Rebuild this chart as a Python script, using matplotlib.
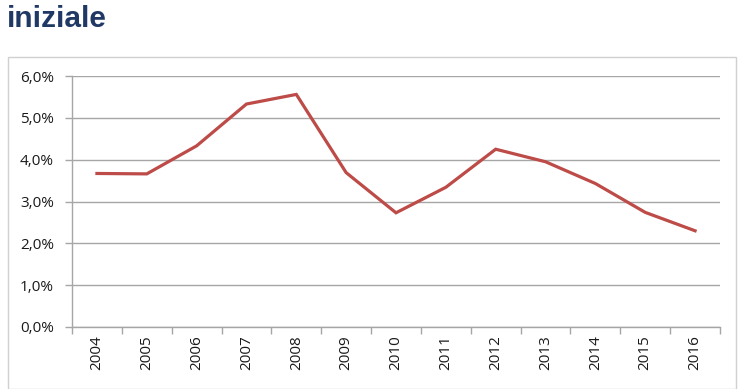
import matplotlib
matplotlib.use("Agg")
import matplotlib.pyplot as plt
import numpy as np
from matplotlib.patches import Rectangle
from matplotlib.ticker import FuncFormatter, FixedLocator

years = ["2004", "2005", "2006", "2007", "2008", "2009", "2010",
         "2011", "2012", "2013", "2014", "2015", "2016"]
rates = [3.67, 3.66, 4.33, 5.33, 5.56, 3.69, 2.73,
         3.34, 4.25, 3.95, 3.43, 2.74, 2.30]
title = "iniziale"

W, H = 740, 389
fig = plt.figure(figsize=(W / 100, H / 100), dpi=100)
fig.patch.set_facecolor("white")

# outer chart frame
fig.patches.append(Rectangle((8 / W, 0), (736 - 8) / W, 1 - 57 / H,
                             transform=fig.transFigure, fill=False,
                             edgecolor="#d0d0d0", linewidth=1.0))

fig.text(7 / W, 1 - 19 / H, title, fontsize=21.5, fontweight="bold",
         color="#1f3864", family="Liberation Sans", va="center", ha="left")

left, right, top, bottom = 72, 720, 76, 327
ax = fig.add_axes([left / W, 1 - bottom / H, (right - left) / W, (bottom - top) / H])

x = np.arange(len(years))
ax.plot(x, rates, color="#bd4b48", linewidth=2.3, solid_joinstyle="miter")

ax.set_xlim(-0.5, len(years) - 0.5)
ax.set_ylim(0, 6)
ax.set_yticks(np.arange(0, 7, 1))
ax.yaxis.set_major_formatter(FuncFormatter(lambda v, p: f"{v:.1f}%".replace(".", ",")))
ax.yaxis.grid(True, color="#a6a6a6", linewidth=1.0)
ax.set_axisbelow(True)

ax.set_xticks(x)
ax.set_xticklabels(years, rotation=90)
ax.xaxis.set_minor_locator(FixedLocator(np.arange(-0.5, len(years), 1)))
ax.tick_params(axis="x", which="major", length=0, pad=6, labelsize=11, labelcolor="#1a1a1a")
ax.tick_params(axis="x", which="minor", length=5, color="#a6a6a6", width=1.0)
ax.tick_params(axis="y", which="major", length=5, color="#a6a6a6", width=1.0,
               labelsize=11, labelcolor="#1a1a1a", pad=8)

for t in ax.get_xticklabels() + ax.get_yticklabels():
    t.set_family("Open Sans")

for s in ["top", "right"]:
    ax.spines[s].set_visible(False)
for s in ["left", "bottom"]:
    ax.spines[s].set_color("#a6a6a6")
    ax.spines[s].set_linewidth(1.0)

fig.savefig("out.png", dpi=100, facecolor="white")
